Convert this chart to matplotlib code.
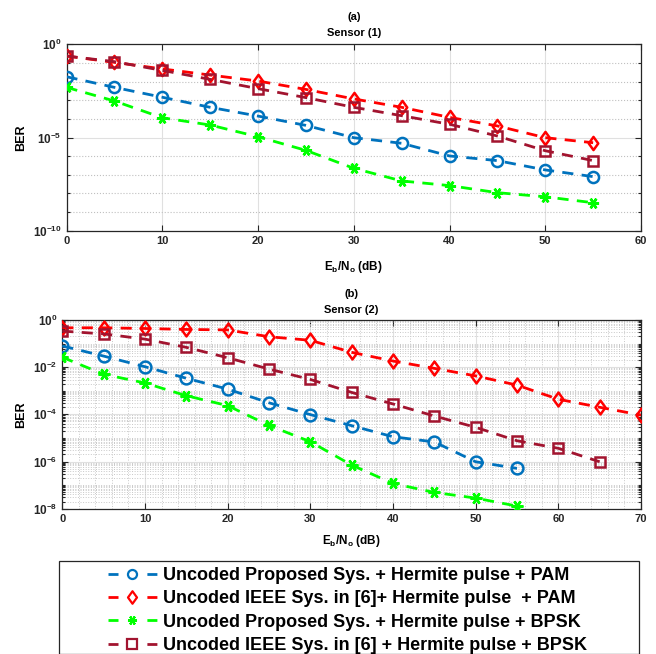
import numpy as np
import matplotlib
matplotlib.use("Agg")
import matplotlib.pyplot as plt
from matplotlib.lines import Line2D
from matplotlib.path import Path
from matplotlib.patches import Rectangle
from matplotlib.ticker import LogLocator, NullFormatter, FixedLocator, MultipleLocator

plt.rcParams['font.family'] = ['Liberation Sans', 'DejaVu Sans']
plt.rcParams['font.weight'] = 'bold'
plt.rcParams['mathtext.fontset'] = 'custom'
plt.rcParams['mathtext.rm'] = 'Liberation Sans:bold'
plt.rcParams['mathtext.bf'] = 'Liberation Sans:bold'
plt.rcParams['mathtext.it'] = 'Liberation Sans:bold'
plt.rcParams['mathtext.default'] = 'rm'

# ---------------- data (log10 of BER) ----------------
snr_a = [0, 5, 10, 15, 20, 25, 30, 35, 40, 45, 50, 55]
a_prop_pam = [-1.74, -2.31, -2.84, -3.38, -3.85, -4.35, -5.01, -5.31, -5.99, -6.24, -6.74, -7.10]
a_ieee_pam = [-0.63, -0.97, -1.32, -1.65, -1.97, -2.42, -2.93, -3.38, -3.92, -4.38, -5.01, -5.28]
a_prop_bpsk = [-2.31, -3.04, -3.94, -4.33, -4.96, -5.69, -6.65, -7.33, -7.58, -7.96, -8.18, -8.50]
a_ieee_bpsk = [-0.63, -0.93, -1.40, -1.88, -2.38, -2.86, -3.38, -3.83, -4.29, -4.92, -5.71, -6.24]

snr_b_prop_pam = [0, 5, 10, 15, 20, 25, 30, 35, 40, 45, 50, 55]
b_prop_pam = [-1.10, -1.53, -1.98, -2.47, -2.93, -3.51, -4.01, -4.48, -4.95, -5.17, -6.01, -6.29]
snr_b_ieee_pam = [0, 5, 10, 15, 20, 25, 30, 35, 40, 45, 50, 55, 60, 65, 70]
b_ieee_pam = [-0.33, -0.33, -0.36, -0.40, -0.42, -0.71, -0.86, -1.37, -1.74, -2.05, -2.37, -2.76, -3.36, -3.70, -4.03]
snr_b_prop_bpsk = [0, 5, 10, 15, 20, 25, 30, 35, 40, 45, 50, 55]
b_prop_bpsk = [-1.58, -2.30, -2.67, -3.21, -3.63, -4.47, -5.16, -6.15, -6.93, -7.31, -7.55, -7.89]
snr_b_ieee_bpsk = [0, 5, 10, 15, 20, 25, 30, 35, 40, 45, 50, 55, 60, 65]
b_ieee_bpsk = [-0.47, -0.59, -0.81, -1.16, -1.60, -2.08, -2.52, -3.07, -3.56, -4.07, -4.55, -5.12, -5.44, -6.01]

labels = ["Uncoded Proposed Sys. + Hermite pulse + PAM",
          "Uncoded IEEE Sys. in [6]+ Hermite pulse  + PAM",
          "Uncoded Proposed Sys. + Hermite pulse + BPSK",
          "Uncoded IEEE Sys. in [6] + Hermite pulse + BPSK"]

colors = ['#0072BD', '#FF0000', '#00FF00', '#A2142F']
diamond = Path([(0, 1), (0.72, 0), (0, -1), (-0.72, 0), (0, 1)],
               [Path.MOVETO, Path.LINETO, Path.LINETO, Path.LINETO, Path.CLOSEPOLY])
markers = ['o', diamond, (6, 2, 90), 's']
msize_a = [8, 9.5, 8, 7.2]
msize_b = [8.5, 10, 8.5, 7.8]

W, H = 656, 654
fig = plt.figure(figsize=(W / 100, H / 100), dpi=100)

def ax_rect(l, t, r, b):
    return [l / W, 1 - b / H, (r - l) / W, (b - t) / H]

ax1 = fig.add_axes(ax_rect(66.5, 44.3, 641, 230.7))
ax2 = fig.add_axes(ax_rect(62.3, 320, 641, 508.7))

def style(ax):
    ax.set_yscale('log')
    ax.tick_params(which='both', direction='in', top=True, right=True,
                   colors='#262626', width=0.8)
    ax.tick_params(axis='x', labelsize=8)
    ax.tick_params(axis='y', labelsize=8.5)
    ax.tick_params(which='major', length=4)
    ax.tick_params(which='minor', length=2.5)
    for s in ax.spines.values():
        s.set_color('#262626')
        s.set_linewidth(0.9)

def plot_series(ax, xs, ys, i, ms):
    ax.plot(xs, 10.0 ** np.array(ys), linestyle=(0, (4, 3)), color=colors[i],
            linewidth=2.0, marker=markers[i], markersize=ms, markerfacecolor='none',
            markeredgecolor=colors[i], markeredgewidth=1.8, zorder=3 + i)

# ---- top plot ----
series_a = [a_prop_pam, a_ieee_pam, a_prop_bpsk, a_ieee_bpsk]
for i, ys in enumerate(series_a):
    plot_series(ax1, snr_a, ys, i, msize_a[i])
style(ax1)
ax1.set_xlim(0, 60)
ax1.set_ylim(1e-10, 1)
ax1.set_xticks([0, 10, 20, 30, 40, 50, 60])
ax1.yaxis.set_major_locator(FixedLocator([1e-10, 1e-5, 1]))
ax1.yaxis.set_minor_locator(FixedLocator([10.0 ** -k for k in range(1, 10) if k != 5]))
ax1.yaxis.set_minor_formatter(NullFormatter())
ax1.set_yticklabels([r'$10^{-10}$', r'$10^{-5}$', r'$10^{0}$'])
ax1.grid(which='major', linestyle='-', color='#e0e0e0', linewidth=0.8)
ax1.grid(which='minor', axis='y', linestyle=':', color='#c0c0c0', linewidth=0.8)
ax1.set_axisbelow(True)
ax1.set_ylabel('BER', fontsize=9, fontweight='bold', labelpad=4)
ax1.set_xlabel(r'E$_\mathrm{b}$/N$_\mathrm{o}$ (dB)', fontsize=8.5, fontweight='bold', labelpad=10)
ax1.set_title('(a)\nSensor (1)', fontsize=8, fontweight='bold', pad=6, linespacing=1.75)

# ---- bottom plot ----
series_b = [(snr_b_prop_pam, b_prop_pam), (snr_b_ieee_pam, b_ieee_pam),
            (snr_b_prop_bpsk, b_prop_bpsk), (snr_b_ieee_bpsk, b_ieee_bpsk)]
for i, (xs, ys) in enumerate(series_b):
    plot_series(ax2, xs, ys, i, msize_b[i])
style(ax2)
ax2.set_xlim(0, 70)
ax2.set_ylim(1e-8, 1)
ax2.set_xticks([0, 10, 20, 30, 40, 50, 60, 70])
ax2.xaxis.set_minor_locator(MultipleLocator(2))
ax2.tick_params(axis='x', which='minor', length=0)
ax2.yaxis.set_major_locator(FixedLocator([1e-8, 1e-6, 1e-4, 1e-2, 1]))
ax2.yaxis.set_minor_locator(LogLocator(base=10, subs=np.arange(1, 10), numticks=100))
ax2.yaxis.set_minor_formatter(NullFormatter())
ax2.set_yticklabels([r'$10^{-8}$', r'$10^{-6}$', r'$10^{-4}$', r'$10^{-2}$', r'$10^{0}$'])
ax2.grid(which='major', linestyle='-', color='#e0e0e0', linewidth=0.8)
ax2.grid(which='minor', linestyle=':', color='#c8c8c8', linewidth=0.7)
ax2.set_axisbelow(True)
ax2.set_ylabel('BER', fontsize=9, fontweight='bold', labelpad=4)
ax2.set_xlabel(r'E$_\mathrm{b}$/N$_\mathrm{o}$ (dB)', fontsize=8.5, fontweight='bold', labelpad=7)
ax2.set_title('(b)\nSensor (2)', fontsize=8, fontweight='bold', pad=5, linespacing=1.8)

# ---- legend ----
frame = Rectangle((59 / W, 0), (639 - 59) / W, 1 - 561 / H, transform=fig.transFigure,
                  facecolor='white', edgecolor='#262626', linewidth=0.9, zorder=1)
fig.patches.append(frame)
handles = [Line2D([], [], linestyle=(0, (3.6, 10.4)), color=colors[i], linewidth=2.0,
                  marker=markers[i], markersize=[6.5, 9, 6.5, 6.5][i], markerfacecolor='none',
                  markeredgecolor=colors[i], markeredgewidth=1.6) for i in range(4)]
leg = fig.legend(handles, labels, loc='upper left',
                 bbox_to_anchor=(108 / W, 1 - 567 / H),
                 prop={'family': 'Liberation Sans', 'weight': 'bold', 'size': 13},
                 frameon=False, borderpad=0, labelspacing=0.35,
                 handlelength=2.7, handletextpad=0.33, borderaxespad=0)
leg.set_zorder(2)

fig.savefig('out.png', dpi=100)
